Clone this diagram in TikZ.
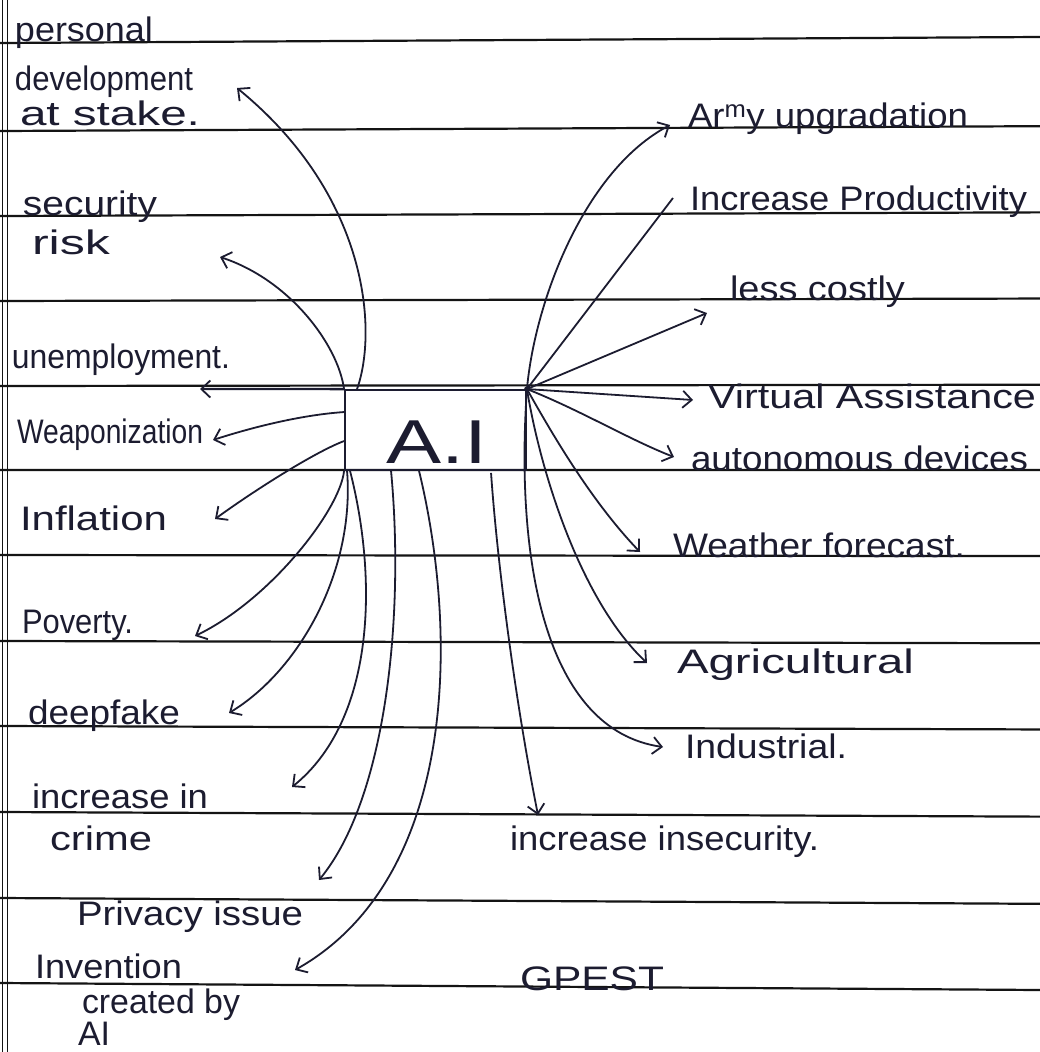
\documentclass[tikz,border=0pt]{standalone}
\usepackage{fontspec}
\setmainfont{Liberation Sans}
\usepackage{graphicx}
\usetikzlibrary{arrows.meta}
\definecolor{ink}{RGB}{28,28,48}
\definecolor{rulecol}{RGB}{20,20,20}
\newcommand\hw[2]{\resizebox{#1pt}{\height}{#2}}
\begin{document}
\begin{tikzpicture}[x=1pt,y=-1pt,
  lbl/.style={anchor=base west, inner sep=0pt, outer sep=0pt, text=ink, font=\fontsize{34}{40}\selectfont},
  arr/.style={draw=ink, line width=1.8pt, -{Straight Barb[length=9pt,width=17pt,line width=1.8pt]}},
  conn/.style={draw=ink, line width=1.8pt},
  nbline/.style={draw=rulecol, line width=2.2pt},
  marginline/.style={draw=rulecol, line width=1.4pt},
  aibox/.style={draw=ink, line width=1.9pt, minimum width=181pt, minimum height=80pt, inner sep=0pt}]
\useasboundingbox (0,0) rectangle (1040,1052);
\fill[white] (0,0) rectangle (1040,1052);
% notebook ruling
\foreach \yy [count=\k from 0] in {43,131,216,301,386,470,555,641,726,812,898,983}{
  \pgfmathsetmacro\dd{-6+13*\k/11}
  \draw[nbline] (0,\yy) -- (1040,{\yy+\dd});
}
\draw[marginline] (2.5,0) -- (2.5,1052);
\draw[marginline] (7.5,0) -- (7.5,1052);

% central box
\node[aibox] (ai) at (435.5,430) {};
\node[inner sep=0pt, text=ink, font=\fontsize{62}{70}\selectfont] (aitxt) at (437,442) {\hw{101}{A.I}};
\fill[ink] (ai.north east) circle (2.8pt);

% labels left
\node[lbl] (pers1) at (15,41) {\hw{138}{personal}};
\node[lbl] (pers2) at (15,90) {\hw{178}{development}};
\node[lbl] (pers3) at (20,125) {\hw{180}{at stake.}};
\node[lbl] (sec1) at (23,215) {\hw{134}{security}};
\node[lbl] (sec2) at (32,254) {\hw{78}{risk}};
\node[lbl] (unemp) at (12,368) {\hw{218}{unemployment.}};
\node[lbl] (weap) at (17,443) {\hw{186}{Weaponization}};
\node[lbl] (infl) at (20,530) {\hw{147}{Inflation}};
\node[lbl] (pov) at (22,633) {\hw{111}{Poverty.}};
\node[lbl] (deep) at (28,724) {\hw{152}{deepfake}};
\node[lbl] (crime1) at (32,808) {\hw{176}{increase in}};
\node[lbl] (crime2) at (50,850) {\hw{102}{crime}};
\node[lbl] (priv) at (77,925) {\hw{226}{Privacy issue}};
\node[lbl] (inv1) at (35,978) {\hw{147}{Invention}};
\node[lbl] (inv2) at (82,1013) {\hw{158}{created by}};
\node[lbl] (inv3) at (78,1045) {\hw{32}{AI}};

% labels right
\node[lbl] (army) at (688,127) {\hw{280}{Ar\textsuperscript{m}y upgradation}};
\node[lbl] (prod) at (690,210) {\hw{337}{Increase Productivity}};
\node[lbl] (cost) at (730,300) {\hw{175}{less costly}};
\node[lbl] (virt) at (708,408) {\hw{328}{Virtual Assistance}};
\node[lbl] (auto) at (691,470) {\hw{337}{autonomous devices}};
\node[lbl] (wea) at (673,557) {\hw{292}{Weather forecast.}};
\node[lbl] (agri) at (677,673) {\hw{237}{Agricultural}};
\node[lbl] (ind) at (685,758) {\hw{162}{Industrial.}};
\node[lbl] (insec) at (510,850) {\hw{309}{increase insecurity.}};
\node[lbl] (gpest) at (520,990) {\hw{144}{GPEST}};

% arrow tips
\coordinate (tpers) at (237,88);
\coordinate (tsec) at (220,257);
\coordinate (tunemp) at (200,389);
\coordinate (tweap) at (213,440);
\coordinate (tinfl) at (215,519);
\coordinate (tpov) at (195,636);
\coordinate (tdeep) at (229,713);
\coordinate (tcrime) at (292,787);
\coordinate (tpriv) at (319,880);
\coordinate (tinv) at (295,970);
\coordinate (tinsec) at (538,815);
\coordinate (tarmy) at (670,125);
\coordinate (tprod) at (673,198);
\coordinate (tcost) at (707,313);
\coordinate (tvirt) at (693,400);
\coordinate (tauto) at (674,457);
\coordinate (twea) at (640,552);
\coordinate (tagri) at (647,663);
\coordinate (tind) at (663,747);

% connectors left
\draw[arr] ([xshift=13pt]ai.north west) .. controls (378,330) and (368,195) .. (tpers);
\draw[arr] (ai.north west) .. controls (338,345) and (290,280) .. (tsec);
\draw[arr, line width=2.4pt] (ai.north west) -- (tunemp);
\draw[arr] ([yshift=-23pt]ai.north west) .. controls (300,415) and (250,428) .. (tweap);
\draw[arr] ([yshift=-52pt]ai.north west) .. controls (315,452) and (255,490) .. (tinfl);
\draw[arr] (ai.south west) .. controls (340,510) and (270,600) .. (tpov);
\draw[arr] ([xshift=3pt]ai.south west) .. controls (355,570) and (300,670) .. (tdeep);
\draw[arr] ([xshift=6pt]ai.south west) .. controls (378,580) and (375,720) .. (tcrime);
\draw[arr] ([xshift=47pt]ai.south west) .. controls (405,620) and (385,800) .. (tpriv);
\draw[arr] ([xshift=75pt]ai.south west) .. controls (460,640) and (455,880) .. (tinv);
\draw[arr] ([xshift=147pt,yshift=-2pt]ai.south west) .. controls (497,560) and (515,700) .. (tinsec);

% connectors right
\draw[arr] (ai.north east) .. controls (535,300) and (585,170) .. (tarmy);
\draw[conn] (ai.north east) -- (tprod);
\draw[arr] (ai.north east) -- (tcost);
\draw[arr] (ai.north east) -- (tvirt);
\draw[arr] (ai.north east) .. controls (580,410) and (630,440) .. (tauto);
\draw[arr] (ai.north east) .. controls (550,430) and (590,500) .. (twea);
\draw[arr] (ai.north east) .. controls (540,470) and (580,600) .. (tagri);
\draw[arr] (ai.north east) .. controls (515,560) and (545,730) .. (tind);
\end{tikzpicture}
\end{document}
